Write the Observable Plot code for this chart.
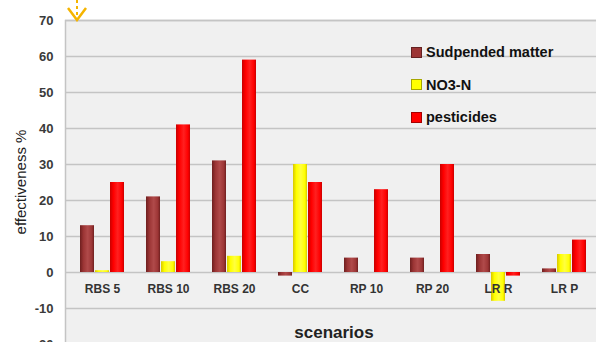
<!DOCTYPE html>
<html>
<head>
<meta charset="utf-8">
<script src="https://cdn.jsdelivr.net/npm/d3@7"></script>
<script src="https://cdn.jsdelivr.net/npm/@observablehq/plot@0.6"></script>
<style>
  html, body { margin: 0; padding: 0; background: #fff; }
  #wrap { position: relative; width: 596px; height: 342px; overflow: hidden; font-family: "Liberation Sans", Arial, sans-serif; }
  #chart svg { display: block; }
  .ytitle { position: absolute; left: 20px; top: 182px; transform: translate(-50%, -50%) rotate(-90deg); font-size: 15px; color: #222; white-space: nowrap; }
  .xtitle { position: absolute; left: 334px; top: 333px; transform: translate(-50%, -50%); font-size: 17px; font-weight: bold; color: #222; white-space: nowrap; }
  .legend { position: absolute; left: 411px; top: 36px; }
  .legend .row { display: flex; align-items: center; height: 32.5px; font-size: 14.5px; font-weight: bold; color: #111; }
  .legend .sw { width: 9px; height: 9px; margin-right: 4px; border: 1px solid rgba(0,0,0,0.35); }
  .icon { position: absolute; left: 66px; top: 0; }
</style>
</head>
<body>
<div id="wrap">
  <div id="chart"></div>
</div>
<script>
const scenarios = ["RBS 5", "RBS 10", "RBS 20", "CC", "RP 10", "RP 20", "LR R", "LR P"];
const seriesNames = ["Sudpended matter", "NO3-N", "pesticides"];
const suspendedMatter = [13, 21, 31, -1, 4, 4, 5, 1];
const no3n = [0.5, 3, 4.5, 30, 0, 0, -8, 5];
const pesticides = [25, 41, 59, 25, 23, 30, -1, 9];
const yTicks = [-20, -10, 0, 10, 20, 30, 40, 50, 60, 70];
const seriesColors = ["#9c3535", "#ffff00", "#ff0000"];

const seriesValues = [suspendedMatter, no3n, pesticides];
const rows = [];
seriesNames.forEach((s, i) => scenarios.forEach((c, j) => rows.push({scenario: c, series: s, value: seriesValues[i][j]})));

const barMarks = seriesNames.map((s, i) =>
  Plot.barY(rows.filter(d => d.series === s), {
    x: "scenario", y: "value",
    fill: `url(#grad${i})`,
    insetLeft: 26, insetRight: 26, dx: (i - 1) * 15
  })
);

const chart = Plot.plot({
  width: 596,
  height: 342,
  marginLeft: 65,
  marginRight: -4,
  marginTop: 20,
  marginBottom: -4,
  style: {fontFamily: "Liberation Sans, Arial, sans-serif", background: "transparent"},
  x: {domain: scenarios, padding: 0, axis: null},
  y: {domain: [-20, 70], range: [344, 20]},
  marks: [
    Plot.frame({fill: "#f0f0f0", stroke: "#c4c4c4", strokeWidth: 1.5}),
    Plot.ruleY(yTicks, {stroke: "#c4c4c4", strokeWidth: 1.5}),
    ...barMarks,
    Plot.text(scenarios, {x: d => d, y: 0, dy: 17, text: d => d, fontWeight: "bold", fontSize: 12, fill: "#333"}),
    Plot.axisY({ticks: yTicks, tickFormat: d => String(d), tickSize: 0, tickPadding: 12, fontWeight: "bold", fontSize: 13, fill: "#3a3a3a", label: null})
  ]
});

// gradients for the bevelled bar look
const dark = ["#6e1f1f", "#d8c800", "#c80000"];
const light = ["#b04a4a", "#ffff40", "#ff2020"];
const defs = d3.select(chart).insert("defs", ":first-child");
seriesColors.forEach((c, i) => {
  const g = defs.append("linearGradient").attr("id", `grad${i}`).attr("x1", 0).attr("x2", 1).attr("y1", 0).attr("y2", 0);
  g.append("stop").attr("offset", "0%").attr("stop-color", dark[i]);
  g.append("stop").attr("offset", "25%").attr("stop-color", c);
  g.append("stop").attr("offset", "55%").attr("stop-color", light[i]);
  g.append("stop").attr("offset", "85%").attr("stop-color", c);
  g.append("stop").attr("offset", "100%").attr("stop-color", dark[i]);
});

const wrap = document.getElementById("wrap");
document.getElementById("chart").appendChild(chart);

const yt = document.createElement("div");
yt.className = "ytitle"; yt.textContent = "effectiveness %";
wrap.appendChild(yt);
const xt = document.createElement("div");
xt.className = "xtitle"; xt.textContent = "scenarios";
wrap.appendChild(xt);

const legend = document.createElement("div");
legend.className = "legend";
seriesNames.forEach((s, i) => {
  const r = document.createElement("div"); r.className = "row";
  const sw = document.createElement("span"); sw.className = "sw"; sw.style.background = seriesColors[i];
  const t = document.createElement("span"); t.textContent = s;
  r.appendChild(sw); r.appendChild(t); legend.appendChild(r);
});
wrap.appendChild(legend);

// small orange marker icon at top-left
wrap.insertAdjacentHTML("beforeend",
  `<svg class="icon" width="24" height="22" viewBox="0 0 24 22">
     <line x1="11" y1="0" x2="11" y2="18" stroke="#f5b400" stroke-width="2" stroke-dasharray="3,3"/>
     <polyline points="2,8 11,20 20,8" fill="none" stroke="#f5b400" stroke-width="2.5"/>
   </svg>`);
</script>
</body>
</html>
